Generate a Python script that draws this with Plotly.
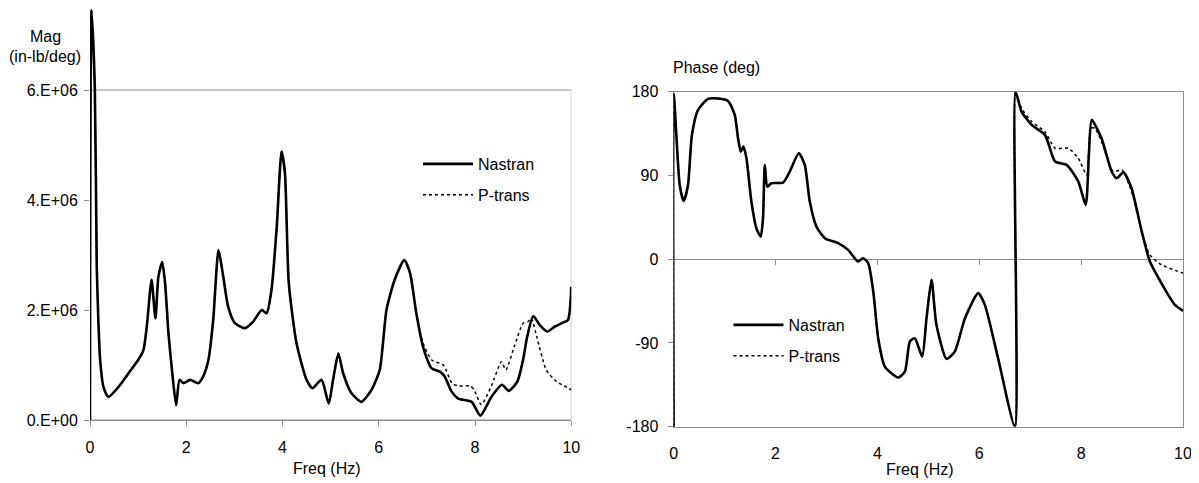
import plotly.graph_objects as go

# ---------------- Magnitude (left) ----------------
mag_freq_nastran = [0.0, 0.03, 0.10, 0.14, 0.17, 0.21, 0.28, 0.38, 0.59, 0.80, 1.00, 1.11, 1.18, 1.25, 1.28,
                    1.36, 1.42, 1.50, 1.56, 1.63, 1.71, 1.79, 1.86, 1.94, 2.08, 2.25, 2.35, 2.46, 2.56, 2.67,
                    2.77, 2.87, 3.01, 3.22, 3.39, 3.57, 3.67, 3.77, 3.88, 3.98, 4.05, 4.13, 4.29, 4.50, 4.62,
                    4.81, 4.96, 5.05, 5.16, 5.26, 5.43, 5.64, 5.85, 6.02, 6.16, 6.33, 6.53, 6.65, 6.78, 6.92,
                    7.10, 7.27, 7.37, 7.51, 7.65, 7.93, 8.11, 8.34, 8.56, 8.70, 8.88, 9.00, 9.08, 9.21, 9.35,
                    9.50, 9.66, 9.80, 9.93, 10.0]
mag_nastran = [0.00, 7.45, 6.05, 2.80, 1.90, 1.10, 0.60, 0.42, 0.60, 0.85, 1.09, 1.27, 1.70, 2.36, 2.55,
               1.85, 2.60, 2.87, 2.49, 1.58, 0.85, 0.27, 0.73, 0.67, 0.73, 0.67, 0.79, 1.09, 1.82, 3.09,
               2.60, 2.06, 1.76, 1.67, 1.79, 2.00, 1.94, 2.36, 3.51, 4.88, 4.49, 2.49, 1.40, 0.73, 0.58,
               0.73, 0.30, 0.73, 1.21, 0.85, 0.49, 0.33, 0.55, 0.91, 2.00, 2.55, 2.91, 2.67, 1.94, 1.33,
               0.94, 0.88, 0.79, 0.52, 0.39, 0.33, 0.08, 0.42, 0.64, 0.53, 0.70, 1.10, 1.50, 1.89, 1.72,
               1.61, 1.70, 1.76, 1.82, 2.42]

mag_freq_ptrans = [0.0, 0.03, 0.10, 0.14, 0.17, 0.21, 0.28, 0.38, 0.59, 0.80, 1.00, 1.11, 1.18, 1.25, 1.28,
                   1.36, 1.42, 1.50, 1.56, 1.63, 1.71, 1.79, 1.86, 1.94, 2.08, 2.25, 2.35, 2.46, 2.56, 2.67,
                   2.77, 2.87, 3.01, 3.22, 3.39, 3.57, 3.67, 3.77, 3.88, 3.98, 4.05, 4.13, 4.29, 4.50, 4.62,
                   4.81, 4.96, 5.05, 5.16, 5.26, 5.43, 5.64, 5.85, 6.02, 6.16, 6.33, 6.53, 6.65, 6.78, 6.92,
                   7.10, 7.34, 7.52, 7.65, 7.90, 7.98, 8.13, 8.34, 8.55, 8.64, 8.82, 9.00, 9.10, 9.17, 9.28,
                   9.48, 9.69, 9.85, 10.0]
mag_ptrans = [6.70, 7.45, 6.05, 2.80, 1.90, 1.10, 0.60, 0.42, 0.60, 0.85, 1.09, 1.27, 1.70, 2.36, 2.55,
              1.85, 2.60, 2.87, 2.49, 1.58, 0.85, 0.27, 0.73, 0.67, 0.73, 0.67, 0.79, 1.09, 1.82, 3.09,
              2.60, 2.06, 1.76, 1.67, 1.79, 2.00, 1.94, 2.36, 3.51, 4.88, 4.49, 2.49, 1.40, 0.73, 0.58,
              0.73, 0.30, 0.73, 1.21, 0.85, 0.49, 0.33, 0.55, 0.91, 2.00, 2.55, 2.91, 2.67, 1.94, 1.40,
              1.09, 1.00, 0.67, 0.62, 0.62, 0.55, 0.28, 0.62, 1.06, 0.91, 1.35, 1.76, 1.79, 1.85, 1.52,
              0.91, 0.70, 0.62, 0.55]

mag_tickvals = [0, 2e6, 4e6, 6e6]
mag_ticktext = ["0.E+00", "2.E+06", "4.E+06", "6.E+06"]

# ---------------- Phase (right) ----------------
ph_freq_nastran = [0.0, 0.003, 0.054, 0.12, 0.198, 0.283, 0.36, 0.48, 0.676, 0.873, 1.069, 1.20, 1.265, 1.318,
                   1.37, 1.43, 1.527, 1.625, 1.71, 1.755, 1.79, 1.84, 1.92, 2.15, 2.28, 2.457, 2.575, 2.673,
                   2.804, 2.968, 3.23, 3.426, 3.62, 3.72, 3.82, 3.92, 4.016, 4.147, 4.41, 4.54, 4.638, 4.736,
                   4.88, 4.965, 5.063, 5.16, 5.358, 5.52, 5.72, 5.98, 6.11, 6.37, 6.70, 6.712, 6.83, 7.03,
                   7.29, 7.49, 7.716, 7.945, 8.09, 8.155, 8.207, 8.40, 8.60, 8.70, 8.83, 8.99, 9.19, 9.35,
                   9.52, 9.71, 9.84, 10.0]
ph_nastran = [-180, 178, 133.6, 79.8, 62.6, 79.8, 133.6, 160.4, 172.3, 172.7, 170.1, 155.1, 130.0, 115.6,
              121.0, 108.5, 61.9, 33.3, 24.3, 44.0, 101.3, 78.0, 81.7, 82.4, 94.1, 113.9, 101.3, 61.9,
              35.0, 22.6, 17.2, 10.0, -2.5, 1.1, -4.3, -34.8, -84.9, -115.4, -127.2, -120.8, -88.5, -84.9,
              -104.6, -63.4, -22.2, -70.6, -107.1, -99.3, -63.4, -36.5, -49.1, -106.4, -180, 180, 158.6, 144.3,
              133.6, 104.9, 101.3, 83.4, 58.4, 115.6, 149.7, 130.0, 94.1, 87.0, 93.4, 76.3, 29.7, -2.5,
              -20.4, -38.4, -49.1, -55.6]

ph_freq_ptrans = [0.0, 0.003, 0.054, 0.12, 0.198, 0.283, 0.36, 0.48, 0.676, 0.873, 1.069, 1.20, 1.265, 1.318,
                  1.37, 1.43, 1.527, 1.625, 1.71, 1.755, 1.79, 1.84, 1.92, 2.15, 2.28, 2.457, 2.575, 2.673,
                  2.804, 2.968, 3.23, 3.426, 3.62, 3.72, 3.82, 3.92, 4.016, 4.147, 4.41, 4.54, 4.638, 4.736,
                  4.88, 4.965, 5.063, 5.16, 5.358, 5.52, 5.72, 5.98, 6.11, 6.37, 6.70, 6.712, 6.83, 7.03,
                  7.29, 7.49, 7.75, 7.945, 8.11, 8.19, 8.27, 8.40, 8.63, 8.80, 8.99, 9.19, 9.35, 9.58, 10.0]
ph_ptrans = [-180, 178, 133.6, 79.8, 62.6, 79.8, 133.6, 160.4, 172.3, 172.7, 170.1, 155.1, 130.0, 115.6,
             121.0, 108.5, 61.9, 33.3, 24.3, 44.0, 101.3, 78.0, 81.7, 82.4, 94.1, 113.9, 101.3, 61.9,
             35.0, 22.6, 17.2, 10.0, -2.5, 1.1, -4.3, -34.8, -84.9, -115.4, -127.2, -120.8, -88.5, -84.9,
             -104.6, -63.4, -22.2, -70.6, -107.1, -99.3, -63.4, -36.5, -49.1, -106.4, -180, 180, 162.2, 147.9,
             137.0, 119.3, 119.3, 108.5, 90.6, 140.8, 140.8, 126.4, 94.1, 96.0, 72.7, 29.7, 4.6, -6.1, -15.0]

freq_ticks = [0, 2, 4, 6, 8, 10]
phase_ticks = [-180, -90, 0, 90, 180]
phase_ticktext = ["-180", "-90", "0", "90", "180"]

# ---------------- Figure ----------------
# the page body has an 8 px default margin; the figure fills the rest of the 1199 x 483 view
PAGE_W, PAGE_H, BODY = 1199, 483, 8
W, H = PAGE_W - BODY, PAGE_H - BODY
FONT = dict(family="Liberation Sans, Arial, sans-serif", size=16, color="black")
GRAY = "#8c8c8c"


def px(x):
    return min(max((x - BODY) / W, 0), 1)


def py(y):
    return min(max(1 - (y - BODY) / H, 0), 1)


SMOOTH = 0.6
mag_scaled_n = [v * 1e6 for v in mag_nastran]
mag_scaled_p = [v * 1e6 for v in mag_ptrans]

fig = go.Figure()
fig.add_trace(go.Scatter(x=mag_freq_nastran, y=mag_scaled_n, mode="lines", name="Nastran",
                         line=dict(color="black", width=2.6, shape="spline", smoothing=SMOOTH),
                         xaxis="x", yaxis="y", legend="legend", legendgroup="a"))
fig.add_trace(go.Scatter(x=mag_freq_ptrans, y=mag_scaled_p, mode="lines", name="P-trans",
                         line=dict(color="black", width=1.5, dash="dot", shape="spline", smoothing=SMOOTH),
                         xaxis="x", yaxis="y", legend="legend", legendgroup="b"))
fig.add_trace(go.Scatter(x=ph_freq_nastran, y=ph_nastran, mode="lines", name="Nastran",
                         line=dict(color="black", width=2.6, shape="spline", smoothing=SMOOTH),
                         xaxis="x2", yaxis="y2", legend="legend2", legendgroup="c"))
fig.add_trace(go.Scatter(x=ph_freq_ptrans, y=ph_ptrans, mode="lines", name="P-trans",
                         line=dict(color="black", width=1.5, dash="dot", shape="spline", smoothing=SMOOTH),
                         xaxis="x2", yaxis="y2", legend="legend2", legendgroup="d"))
fig.add_trace(go.Scatter(x=[None], y=[None], xaxis="x3", yaxis="y2", showlegend=False,
                         hoverinfo="skip"))

MAG_TOP_PX = 8
mag_top = 6e6 * (420 - MAG_TOP_PX) / 330
right_bottom, right_top = 426.7, 91.7
zero_paper = py((right_bottom + right_top) / 2)

axis_common = dict(showgrid=False, zeroline=False, tickfont=FONT, linecolor=GRAY, tickcolor=GRAY,
                   ticklen=5, tickwidth=1, layer="below traces", automargin=False)

fig.update_layout(
    width=W, height=H,
    margin=dict(l=0, r=0, t=0, b=0, autoexpand=False),
    paper_bgcolor="white", plot_bgcolor="rgba(0,0,0,0)",
    font=FONT,
    xaxis=dict(domain=[px(90), px(571.3)], range=[0, 10], anchor="y", tickvals=freq_ticks,
               showline=True, ticks="outside", ticklabelstandoff=8, **axis_common),
    yaxis=dict(domain=[py(420), py(MAG_TOP_PX)], range=[0, mag_top], anchor="x", tickvals=mag_tickvals,
               ticktext=mag_ticktext, showline=False, ticks="outside", ticklabelstandoff=3,
               **axis_common),
    xaxis2=dict(domain=[px(673.6), px(1183)], range=[0, 10], anchor="y2", tickvals=freq_ticks,
                showline=True, mirror=True, ticks="", ticklabelstandoff=12, **axis_common),
    yaxis2=dict(domain=[py(right_bottom), py(right_top)], range=[-180, 180], anchor="x2",
                tickvals=phase_ticks, ticktext=phase_ticktext, showline=True, mirror=True,
                ticks="outside", ticklabelstandoff=6, **axis_common),
    xaxis3=dict(overlaying="x2", anchor="free", position=zero_paper, range=[0, 10],
                tickvals=freq_ticks, showline=True, ticks="outside", showticklabels=False,
                showgrid=False, zeroline=False, linecolor=GRAY, tickcolor=GRAY, ticklen=5,
                layer="below traces"),
    legend=dict(x=px(418), y=py(147), xanchor="left", yanchor="top", bgcolor="rgba(0,0,0,0)",
                font=FONT, traceorder="grouped", tracegroupgap=7, itemwidth=50),
    legend2=dict(x=px(728.5), y=py(308), xanchor="left", yanchor="top", bgcolor="rgba(0,0,0,0)",
                 font=FONT, traceorder="grouped", tracegroupgap=7, itemwidth=50),
    shapes=[dict(type="rect", xref="x", yref="y", x0=0, x1=10, y0=0, y1=6e6,
                 line=dict(color=GRAY, width=1), layer="below")],
    annotations=[
        dict(text="Mag", x=px(45), y=py(36.5), xref="paper", yref="paper", showarrow=False,
             xanchor="center", yanchor="middle", font=FONT),
        dict(text="(in-lb/deg)", x=px(45), y=py(56.5), xref="paper", yref="paper", showarrow=False,
             xanchor="center", yanchor="middle", font=FONT),
        dict(text="Freq (Hz)", x=px(327), y=py(468), xref="paper", yref="paper", showarrow=False,
             xanchor="center", yanchor="middle", font=FONT),
        dict(text="Freq (Hz)", x=px(920), y=py(469), xref="paper", yref="paper", showarrow=False,
             xanchor="center", yanchor="middle", font=FONT),
        dict(text="Phase (deg)", x=px(716), y=py(68), xref="paper", yref="paper", showarrow=False,
             xanchor="center", yanchor="middle", font=FONT),
    ],
)

fig.write_html("out.html")
